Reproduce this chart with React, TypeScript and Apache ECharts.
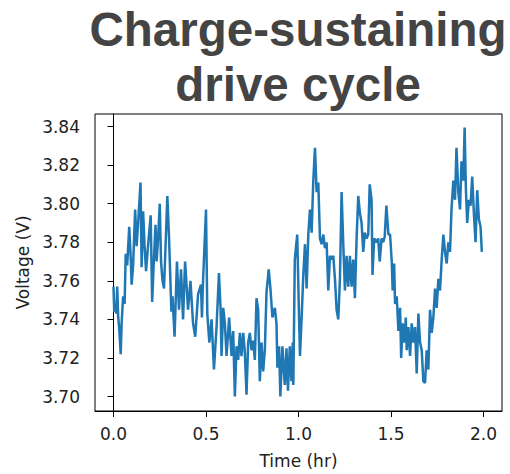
import React, { useEffect, useRef } from "react";
import * as echarts from "echarts";

// Time since start of the cycle (hours)
const timeHr = [
  0.0, 0.004, 0.009, 0.015, 0.02, 0.025, 0.031, 0.039, 0.044, 0.052, 0.06, 0.066, 0.074, 0.085, 0.093, 0.098,
  0.106, 0.117, 0.125, 0.133, 0.146, 0.152, 0.16, 0.168, 0.176, 0.184, 0.201, 0.209, 0.217, 0.227, 0.233, 0.241,
  0.25, 0.257, 0.265, 0.273, 0.281, 0.291, 0.3, 0.313, 0.319, 0.33, 0.343, 0.354, 0.365, 0.376, 0.387, 0.403,
  0.416, 0.43, 0.442, 0.457, 0.473, 0.478, 0.484, 0.5, 0.507, 0.518, 0.53, 0.543, 0.557, 0.57, 0.579, 0.584,
  0.593, 0.602, 0.611, 0.625, 0.638, 0.647, 0.656, 0.665, 0.674, 0.683, 0.692, 0.701, 0.71, 0.719, 0.728, 0.737,
  0.746, 0.755, 0.764, 0.773, 0.782, 0.791, 0.8, 0.809, 0.818, 0.827, 0.839, 0.849, 0.859, 0.872, 0.881, 0.886,
  0.895, 0.902, 0.913, 0.926, 0.935, 0.943, 0.953, 0.962, 0.969, 0.972, 0.98, 0.993, 1.003, 1.008, 1.017, 1.026,
  1.035, 1.044, 1.053, 1.062, 1.071, 1.08, 1.089, 1.098, 1.107, 1.116, 1.125, 1.134, 1.143, 1.152, 1.161, 1.17,
  1.179, 1.188, 1.197, 1.206, 1.215, 1.224, 1.233, 1.242, 1.251, 1.26, 1.269, 1.278, 1.287, 1.296, 1.305, 1.314,
  1.323, 1.332, 1.341, 1.35, 1.358, 1.368, 1.377, 1.385, 1.395, 1.4, 1.409, 1.422, 1.431, 1.439, 1.449, 1.458,
  1.466, 1.475, 1.486, 1.495, 1.504, 1.509, 1.517, 1.522, 1.531, 1.54, 1.549, 1.555, 1.563, 1.571, 1.58, 1.585,
  1.594, 1.603, 1.612, 1.621, 1.63, 1.639, 1.648, 1.657, 1.666, 1.675, 1.684, 1.693, 1.702, 1.711, 1.72, 1.729,
  1.738, 1.747, 1.756, 1.765, 1.774, 1.783, 1.792, 1.801, 1.81, 1.819, 1.827, 1.837, 1.846, 1.854, 1.864, 1.873,
  1.881, 1.891, 1.898, 1.905, 1.912, 1.921, 1.93, 1.939, 1.948, 1.957, 1.966, 1.975, 1.984, 1.991,
];

// Terminal voltage (V)
const voltageV = [
  3.757, 3.744, 3.748, 3.743, 3.757, 3.742, 3.735, 3.722, 3.738, 3.752, 3.748, 3.774, 3.768, 3.788, 3.772, 3.758,
  3.768, 3.797, 3.778, 3.79, 3.811, 3.767, 3.796, 3.778, 3.765, 3.775, 3.794, 3.749, 3.768, 3.789, 3.77, 3.782,
  3.8, 3.77, 3.76, 3.756, 3.777, 3.804, 3.783, 3.744, 3.752, 3.731, 3.77, 3.745, 3.766, 3.74, 3.77, 3.745,
  3.76, 3.738, 3.731, 3.753, 3.758, 3.741, 3.76, 3.797, 3.743, 3.728, 3.74, 3.714, 3.736, 3.764, 3.745, 3.721,
  3.746, 3.738, 3.721, 3.741, 3.721, 3.734, 3.7, 3.726, 3.719, 3.733, 3.721, 3.733, 3.723, 3.701, 3.728, 3.733,
  3.724, 3.729, 3.719, 3.751, 3.745, 3.708, 3.728, 3.713, 3.724, 3.754, 3.766, 3.755, 3.741, 3.746, 3.738, 3.715,
  3.726, 3.7, 3.726, 3.706, 3.725, 3.703, 3.726, 3.708, 3.728, 3.706, 3.771, 3.784, 3.741, 3.721, 3.741, 3.763,
  3.779, 3.756, 3.784, 3.797, 3.785, 3.812, 3.829, 3.806, 3.811, 3.782, 3.779, 3.784, 3.777, 3.78, 3.755, 3.773,
  3.771, 3.773, 3.761, 3.745, 3.74, 3.761, 3.806, 3.779, 3.755, 3.773, 3.757, 3.773, 3.757, 3.771, 3.751, 3.782,
  3.804, 3.795, 3.79, 3.775, 3.785, 3.782, 3.784, 3.81, 3.802, 3.763, 3.782, 3.78, 3.782, 3.77, 3.782, 3.78,
  3.783, 3.799, 3.784, 3.784, 3.77, 3.755, 3.769, 3.748, 3.752, 3.734, 3.746, 3.72, 3.738, 3.728, 3.741, 3.724,
  3.736, 3.721, 3.738, 3.728, 3.736, 3.712, 3.743, 3.728, 3.724, 3.708, 3.707, 3.724, 3.714, 3.745, 3.733, 3.741,
  3.756, 3.746, 3.761, 3.755, 3.771, 3.784, 3.775, 3.769, 3.78, 3.775, 3.797, 3.812, 3.802, 3.829, 3.806, 3.797,
  3.822, 3.812, 3.8395, 3.807, 3.79, 3.802, 3.799, 3.814, 3.795, 3.78, 3.807, 3.792, 3.788, 3.775,
];

const xTicks = [0.0, 0.5, 1.0, 1.5, 2.0];
const yTicks = [3.7, 3.72, 3.74, 3.76, 3.78, 3.8, 3.82, 3.84];

const TITLE = "Charge-sustaining\ndrive cycle";
const X_LABEL = "Time (hr)";
const Y_LABEL = "Voltage (V)";

export default function App() {
  const ref = useRef<HTMLDivElement>(null);

  useEffect(() => {
    if (!ref.current) return;
    const chart = echarts.init(ref.current, null, { renderer: "svg" });
    const tickFont = "DejaVu Sans";
    const textColor = "#222222";
    const points = timeHr.map((t, i) => [t, voltageV[i]]);

    chart.setOption({
      animation: false,
      backgroundColor: "#ffffff",
      grid: {
        left: 95,
        right: 8,
        top: 114,
        bottom: 57,
        show: true,
        borderColor: "#000000",
        borderWidth: 1,
        backgroundColor: "transparent",
      },
      graphic: [
        {
          type: "text",
          x: 298,
          y: 2,
          style: {
            text: TITLE,
            fontFamily: "Liberation Sans",
            fontWeight: "bold",
            fontSize: 47.5,
            lineHeight: 55,
            fill: "#444444",
            textAlign: "center",
            textVerticalAlign: "top",
          },
        },
      ],
      xAxis: {
        type: "value",
        min: -0.1,
        max: 2.1,
        name: X_LABEL,
        nameLocation: "middle",
        nameGap: 41,
        nameTextStyle: { fontFamily: tickFont, fontSize: 17, color: textColor },
        axisLine: { show: true, lineStyle: { color: "#000000", width: 1 } },
        axisTick: {
          show: true,
          length: 6,
          inside: false,
          customValues: xTicks,
          lineStyle: { color: "#000000" },
        },
        axisLabel: {
          customValues: xTicks,
          margin: 14,
          fontFamily: tickFont,
          fontSize: 17,
          color: textColor,
          formatter: (v: number) => v.toFixed(1),
        },
        splitLine: { show: false },
      },
      yAxis: {
        type: "value",
        min: 3.6925,
        max: 3.8465,
        name: Y_LABEL,
        nameLocation: "middle",
        nameGap: 64,
        nameRotate: 90,
        nameTextStyle: { fontFamily: tickFont, fontSize: 17, color: textColor },
        axisLine: { show: true, lineStyle: { color: "#000000", width: 1 } },
        axisTick: {
          show: true,
          length: 6,
          inside: false,
          customValues: yTicks,
          lineStyle: { color: "#000000" },
        },
        axisLabel: {
          customValues: yTicks,
          margin: 15,
          fontFamily: tickFont,
          fontSize: 17,
          color: textColor,
          formatter: (v: number) => v.toFixed(2),
        },
        splitLine: { show: false },
      },
      series: [
        {
          type: "line",
          data: points,
          showSymbol: false,
          symbol: "none",
          lineStyle: { color: "#1f77b4", width: 2.5 },
          clip: true,
        },
      ],
    });

    return () => chart.dispose();
  }, []);

  return <div ref={ref} style={{ width: 510, height: 474, position: "fixed", left: 0, top: 0 }} />;
}
